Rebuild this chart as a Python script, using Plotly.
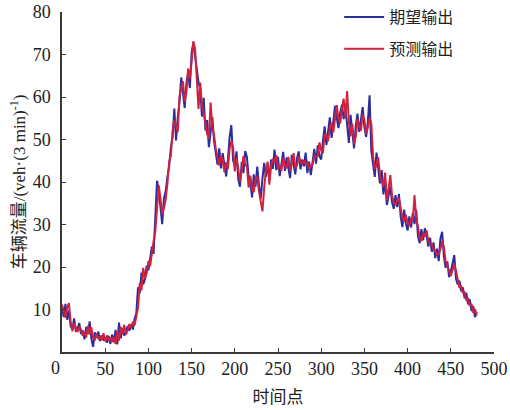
import plotly.graph_objects as go

# time index, sampled every 2 steps
time_idx = list(range(0, 481, 2))

# expected traffic flow (veh per 3 min)
expected = [
    10.5, 8.2, 11.3, 7.6, 9.8, 6.1, 5.4, 7.9, 4.8, 5.6,
    6.8, 4.2, 5.1, 3.0, 5.9, 4.3, 7.2, 3.1, 1.2, 4.6,
    3.5, 4.8, 2.6, 3.9, 2.9, 3.4, 2.2, 3.8, 1.9, 4.1,
    2.3, 5.2, 1.8, 6.9, 3.2, 5.6, 3.9, 4.7, 6.1, 5.0,
    6.4, 5.3, 7.8, 9.1, 15.2, 13.8, 18.7, 15.9, 17.1, 20.3,
    19.2, 22.6, 24.8, 23.1, 30.2, 40.3, 37.9, 34.5, 30.1, 36.2,
    37.8, 41.2, 43.6, 48.1, 50.5, 57.3, 49.8, 55.2, 58.9, 64.6,
    60.1, 57.4, 63.2, 65.8, 62.1, 70.4, 72.8, 69.6, 66.3, 63.5,
    61.9, 55.4, 59.8, 52.1, 54.6, 48.2, 51.7, 55.3, 49.6, 46.2,
    44.1, 47.9, 43.2, 46.8, 44.5, 41.3, 45.2, 50.6, 53.4, 45.1,
    43.8, 47.2, 40.6, 38.9, 44.7, 42.1, 47.3, 45.9, 41.2, 39.8,
    36.4, 41.8, 38.9, 43.6, 39.2, 36.1, 40.8, 44.5, 41.2, 43.9,
    40.7, 45.3, 43.1, 47.6, 42.8, 45.9, 41.4, 44.2, 47.1, 42.6,
    45.8, 43.3, 40.9, 46.4, 44.1, 41.8, 45.6, 47.2, 43.0, 45.3,
    43.7, 46.9, 42.1, 44.8, 41.6, 45.2, 47.8, 44.3, 48.6, 46.1,
    45.3, 49.8, 53.1, 48.7, 51.9, 55.2, 50.4, 53.6, 57.9, 55.1,
    52.7, 56.3, 58.2, 54.8, 57.1, 53.6, 49.2, 55.8, 51.4, 47.9,
    53.2, 56.1, 51.8, 54.3, 57.6, 52.9, 50.6, 54.2, 60.4, 47.3,
    44.6, 41.2, 46.9, 43.5, 39.7, 42.8, 37.1, 40.3, 34.6, 36.8,
    38.9, 35.2, 33.7, 36.9, 34.1, 37.2, 31.8, 29.4, 33.5, 30.2,
    28.6, 31.9, 29.3, 32.7, 30.1, 33.4, 27.2, 25.6, 28.9, 26.3,
    29.1, 27.4, 24.8, 26.9, 23.6, 25.8, 22.1, 24.3, 21.4, 26.7,
    28.3, 22.5, 19.8, 21.3, 17.6, 18.9, 20.6, 22.8, 17.2, 15.9,
    16.8, 14.3, 15.2, 12.6, 13.9, 11.2, 12.4, 9.6, 10.8, 8.2,
    9.4,
]

# predicted traffic flow (veh per 3 min)
predicted = [
    11.2, 9.3, 8.1, 10.4, 11.5, 7.2, 4.9, 6.8, 5.6, 4.7,
    5.9, 5.3, 3.8, 4.6, 3.4, 6.2, 4.1, 5.8, 3.3, 2.9,
    4.2, 3.1, 3.6, 2.8, 4.4, 2.5, 3.9, 2.7, 3.3, 2.4,
    3.6, 1.9, 4.8, 2.7, 5.9, 4.3, 6.4, 4.1, 5.2, 6.6,
    5.7, 7.1, 6.3, 8.6, 10.4, 16.3, 14.5, 19.8, 17.2, 18.6,
    21.4, 20.2, 23.7, 26.1, 28.4, 33.6, 39.2, 36.1, 32.4, 33.8,
    35.9, 39.6, 44.8, 46.2, 52.1, 54.6, 53.3, 51.7, 60.2, 61.8,
    63.7, 58.9, 61.1, 66.7, 64.3, 68.2, 73.1, 71.4, 64.8, 57.2,
    63.4, 58.1, 56.2, 53.8, 51.3, 50.2, 58.7, 52.9, 51.1, 47.8,
    45.6, 43.9, 46.1, 45.2, 42.3, 44.6, 43.1, 47.8, 49.6, 48.2,
    42.5, 45.6, 43.2, 40.1, 42.8, 46.1, 44.2, 43.6, 38.7, 41.5,
    38.3, 37.6, 40.9, 41.2, 37.8, 35.2, 33.1, 38.6, 42.7, 44.8,
    39.4, 43.8, 45.2, 44.9, 46.3, 43.1, 43.9, 42.7, 45.6, 44.1,
    43.2, 45.9, 42.6, 44.3, 46.8, 43.2, 43.9, 46.1, 44.8, 44.2,
    45.1, 44.2, 44.6, 43.1, 43.8, 44.1, 46.2, 45.9, 46.1, 49.3,
    47.4, 46.8, 51.2, 50.9, 49.6, 52.8, 53.9, 51.7, 55.6, 58.1,
    54.9, 53.8, 57.3, 59.6, 55.2, 61.4, 54.1, 50.8, 53.7, 49.1,
    50.6, 54.8, 53.2, 52.1, 55.9, 54.6, 51.3, 52.8, 55.1, 53.7,
    46.2, 43.1, 44.2, 45.8, 41.6, 40.1, 38.9, 42.2, 35.7, 38.4,
    41.6, 36.9, 35.1, 34.6, 35.8, 36.1, 33.9, 31.6, 30.7, 32.3,
    30.4, 29.7, 31.1, 30.8, 36.9, 31.2, 29.6, 26.8, 26.1, 27.8,
    27.2, 28.6, 26.1, 25.4, 25.3, 24.1, 23.8, 22.9, 23.1, 24.2,
    26.1, 24.7, 21.3, 20.4, 19.2, 17.9, 19.4, 20.7, 19.1, 17.3,
    15.1, 15.6, 13.8, 14.2, 12.1, 12.7, 10.9, 11.3, 9.2, 10.1,
    8.6,
]

x_ticks = [50, 100, 150, 200, 250, 300, 350, 400, 450, 500]
y_ticks = [10, 20, 30, 40, 50, 60, 70, 80]

SERIF = "'Liberation Serif', 'Noto Sans CJK SC', serif"
CJK = "'Noto Sans CJK SC', sans-serif"
AXIS_COLOR = "#3a3a3a"
TEXT_COLOR = "#222222"

fig = go.Figure()
fig.add_trace(go.Scatter(
    x=time_idx, y=expected, mode="lines", name="期望输出",
    line=dict(color="#2b2d9c", width=2), legendgroup="a",
))
fig.add_trace(go.Scatter(
    x=time_idx, y=predicted, mode="lines", name="预测输出",
    line=dict(color="#d0213f", width=2), legendgroup="b",
))

fig.update_layout(
    width=510, height=410,
    margin=dict(l=62, r=16, t=12, b=58, autoexpand=False),
    paper_bgcolor="white", plot_bgcolor="white",
    font=dict(family=SERIF, size=17, color=TEXT_COLOR),
    showlegend=True,
    legend=dict(
        xref="container", yref="container",
        x=0.665, y=1.0, xanchor="left", yanchor="top",
        bgcolor="rgba(0,0,0,0)", traceorder="grouped", tracegroupgap=8,
        font=dict(family=CJK, size=16, color=TEXT_COLOR),
        itemwidth=40,
    ),
    xaxis=dict(
        range=[0, 500], tickvals=x_ticks, ticktext=[str(v) for v in x_ticks],
        showgrid=False, zeroline=False, showline=True, linecolor=AXIS_COLOR, linewidth=1.5,
        ticks="inside", ticklen=4, tickcolor=AXIS_COLOR, tickwidth=1.2,
        tickfont=dict(family=SERIF, size=18, color=TEXT_COLOR),
        automargin=False,
        title=dict(text="时间点", font=dict(family=CJK, size=17, color=TEXT_COLOR), standoff=13),
    ),
    yaxis=dict(
        range=[0, 80], tickvals=y_ticks, ticktext=[str(v) for v in y_ticks],
        showgrid=False, zeroline=False, showline=True, linecolor=AXIS_COLOR, linewidth=1.5,
        ticks="inside", ticklen=4, tickcolor=AXIS_COLOR, tickwidth=1.2,
        tickfont=dict(family=SERIF, size=18, color=TEXT_COLOR),
        ticklabelstandoff=6, automargin=False,
        title=dict(text="车辆流量/(veh·(3 min)<sup>-1</sup>)",
                   font=dict(family=SERIF, size=17, color=TEXT_COLOR), standoff=3),
    ),
)

# shared origin label below the corner
fig.add_annotation(
    x=0, y=0, xref="x", yref="y", text="0", showarrow=False,
    xanchor="center", yanchor="top", xshift=-7, yshift=-4,
    font=dict(family=SERIF, size=18, color=TEXT_COLOR),
)

fig.write_html("out.html")
